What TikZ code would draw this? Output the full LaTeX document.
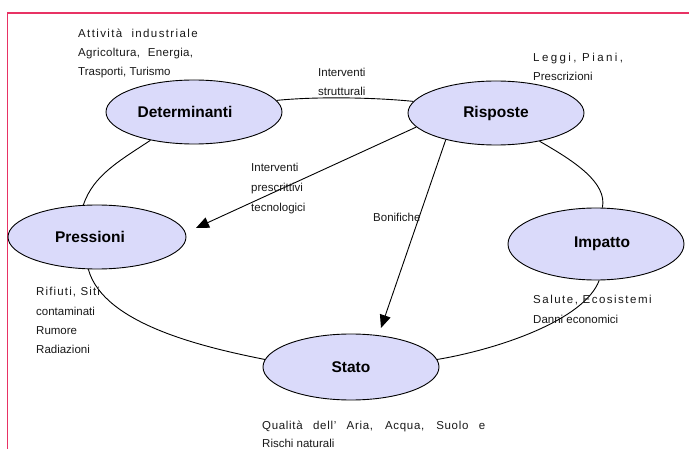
\documentclass[tikz,border=0pt]{standalone}
\usepackage{fontspec}
\setmainfont{Liberation Sans}
\usetikzlibrary{arrows.meta,shapes.geometric}
\definecolor{nodefill}{RGB}{218,218,250}
\definecolor{framecol}{RGB}{232,50,100}
\definecolor{txt}{RGB}{25,25,25}
\begin{document}
\begin{tikzpicture}[x=1pt,y=-1pt,
  elli/.style={ellipse, draw=black, line width=0.9pt, fill=nodefill, inner sep=0pt,
    minimum width=176pt, minimum height=64pt,
    font=\bfseries\fontsize{15.5}{18}\selectfont},
  small/.style={anchor=base west, inner sep=0pt, text=txt, font=\fontsize{11.5}{14}\selectfont},
  conn/.style={draw=black, line width=0.9pt},
  arr/.style={conn, -{Triangle[length=13pt,width=11pt]}}]
\useasboundingbox (0,0) rectangle (689,449);
\fill[white] (0,0) rectangle (689,449);
\draw[framecol, line width=1.4pt] (7.5,449) -- (7.5,13) -- (689,13);

% ellipses
\node[elli] (det) at (194,112) {\hspace*{-18pt}Determinanti};
\node[elli] (ris) at (496,113) {Risposte};
\node[elli, minimum width=178pt] (pre) at (97,237) {\hspace*{-14pt}Pressioni};
\node[elli, minimum height=72pt] (imp) at (596,244) {\hspace*{12pt}Impatto};
\node[elli, minimum height=66pt] (sta) at (351,367) {Stato};

% cycle connectors
\draw[conn] (det.8) .. controls +(40,-4) and +(-40,-4) .. (ris.172);
\draw[conn] (det.213) .. controls +(-30,20) and +(10,-30) .. (pre.113);
\draw[conn] (pre.-105) .. controls +(15,55) and +(-60,-12) .. (sta.175);
\draw[conn] (sta.5) .. controls +(60,-10) and +(-15,40) .. (imp.-85);
\draw[conn] (ris.-33) .. controls +(35,20) and +(5,-25) .. (imp.80);

% arrows
\coordinate (tipP) at (196,228);
\coordinate (tipS) at (381,328);
\draw[arr] (ris.190) -- (tipP);
\draw[arr] (ris.208) -- (tipS);

% texts
\node[small] (t1) at (78,37.5) {\addfontfeature{LetterSpace=12}Attività\ \ industriale};
\node[small] (t2) at (78,56.5) {\makebox[115pt][s]{\addfontfeature{LetterSpace=3}Agricoltura, Energia,}};
\node[small] (t3) at (78,75.5) {Trasporti, Turismo};

\node[small] (t4) at (318,77) {Interventi};
\node[small] (t5) at (318,96) {strutturali};

\node[small] (t6) at (533,62) {\addfontfeature{LetterSpace=21}Leggi, Piani,};
\node[small] (t7) at (533,81) {Prescrizioni};

\node[small] (t8) at (251,172) {Interventi};
\node[small] (t9) at (251,192) {prescrittivi};
\node[small] (t10) at (251,212) {tecnologici};

\node[small] (t11) at (373,222) {Bonifiche};

\node[small] (t12) at (36,296) {\addfontfeature{LetterSpace=10}Rifiuti,\ Siti};
\node[small] (t13) at (36,316) {contaminati};
\node[small] (t14) at (36,335) {Rumore};
\node[small] (t15) at (36,354) {Radiazioni};

\node[small] (t16) at (533,304) {\addfontfeature{LetterSpace=13}Salute,\ Ecosistemi};
\node[small] (t17) at (533,324) {Danni economici};

\node[small] (t18) at (262,429) {\makebox[223pt][s]{\addfontfeature{LetterSpace=6}Qualità dell' Aria, Acqua, Suolo e}};
\node[small] (t19) at (262,447) {Rischi naturali};
\end{tikzpicture}
\end{document}
